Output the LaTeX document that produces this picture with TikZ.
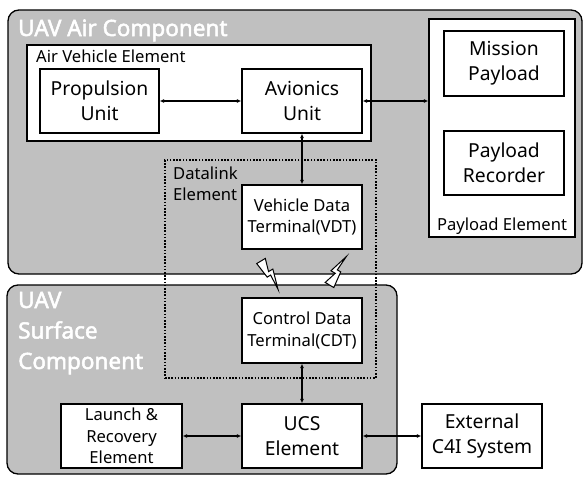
\documentclass[tikz,border=0pt]{standalone}
\usepackage{fontspec}
\setmainfont{Noto Sans}
\newfontfamily\ttlfont{Noto Sans}[FakeBold=2.2]
\usetikzlibrary{arrows.meta}
\definecolor{compgray}{RGB}{192,192,192}
\begin{document}
\begin{tikzpicture}[x=1pt,y=-1pt,
  comp/.style={draw, line width=1.3pt, fill=compgray, rounded corners=11pt, inner sep=0pt},
  group/.style={draw, line width=1.3pt, fill=white, inner sep=0pt},
  box/.style={draw, line width=1.3pt, fill=white, inner sep=0pt, align=center,
              minimum width=120pt, minimum height=64pt},
  big/.style={font=\fontsize{19.3}{25}\selectfont},
  small/.style={font=\fontsize{16.6}{21.5}\selectfont},
  ttl/.style={font=\ttlfont\fontsize{22.5}{30.5}\selectfont, text=white, inner sep=0pt, align=left},
  lbl/.style={font=\fontsize{16.6}{21}\selectfont, inner sep=0pt},
  arr/.style={{Latex[length=4.5pt,width=4pt]}-{Latex[length=4.5pt,width=4pt]}, line width=1.1pt},
  dotbox/.style={draw, line width=1.6pt, dash pattern=on 1.6pt off 1.6pt, inner sep=0pt},
  bolt/.pic={\draw[line width=1pt, fill=white, line join=miter]
     (-5,0) -- (5,0) -- (1,13) -- (6,13) -- (0,33) -- (1,17) -- (-3,17) -- cycle;}
]
\useasboundingbox (0,0) rectangle (584,477);
% components
\node[comp, minimum width=574pt, minimum height=264pt] (air) at (295,142) {};
\node[comp, minimum width=390pt, minimum height=189pt] (surf) at (202,379.5) {};
% groups
\node[group, minimum width=344pt, minimum height=96pt] (ave) at (199,93) {};
\node[group, minimum width=146pt, minimum height=218pt] (pe) at (502,128) {};
% boxes
\node[box, big, minimum width=119pt] (prop) at (99.5,101) {Propulsion\\Unit};
\node[box, big] (avi) at (302,101) {Avionics\\Unit};
\node[box, big, minimum height=65pt] (mp) at (504,63.5) {Mission\\Payload};
\node[box, big] (pr) at (504,163) {Payload\\Recorder};
\node[dotbox, minimum width=211pt, minimum height=218pt] (dl) at (270.5,269) {};
\node[box, small] (vdt) at (302,217) {Vehicle Data\\Terminal(VDT)};
\node[box, small, minimum height=65pt] (cdt) at (302,330.5) {Control Data\\Terminal(CDT)};
\node[box, big] (ucs) at (302,436) {UCS\\Element};
\node[box, small, minimum width=121pt] (lr) at (121.5,436) {Launch \&\\Recovery\\Element};
\node[box, big] (ext) at (482,436) {External\\C4I System};
% labels
\node[ttl, anchor=base west] (airt) at (18,36) {UAV Air Component};
\node[ttl, anchor=base west] (surft) at (18,369) {UAV\\Surface\\Component};
\node[lbl, anchor=base west] (avet) at (36,62) {Air Vehicle Element};
\node[lbl, anchor=base] (pet) at (502,230) {Payload Element};
\node[lbl, anchor=base west, align=left] (dlt) at (173,200) {Datalink\\Element};
% bolts
\pic[rotate=31] at (261,261) {bolt};
\pic[rotate=149.4] at (329.5,285) {bolt};
% arrows
\draw[arr] (prop.east) -- (avi.east -| avi.west);
\draw[arr] (avi.east) -- (avi.east -| pe.west);
\draw[arr] (avi.south) -- (vdt.north);
\draw[arr] (cdt.south) -- (ucs.north);
\draw[arr] (lr.east) -- (ucs.west);
\draw[arr] (ucs.east) -- (ext.west);
\end{tikzpicture}
\end{document}
